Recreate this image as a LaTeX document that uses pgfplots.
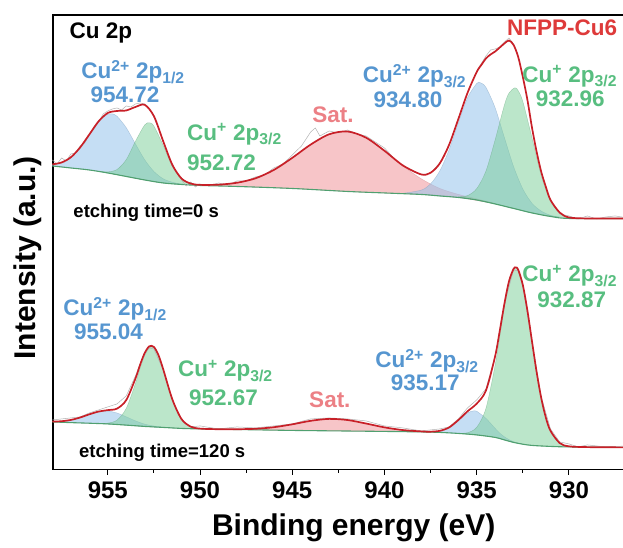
\documentclass[border=0pt]{standalone}
\usepackage{fontspec}
\setmainfont{Liberation Sans}
\usepackage{pgfplots}
\pgfplotsset{compat=1.18}
\usetikzlibrary{calc}
\definecolor{tblue}{RGB}{86,150,208}
\definecolor{tgreen}{RGB}{88,190,128}
\definecolor{tsat}{RGB}{236,128,133}
\definecolor{tred}{RGB}{222,58,58}
\definecolor{envred}{RGB}{200,32,40}
\definecolor{basegreen}{RGB}{80,160,112}
\definecolor{fblue}{RGB}{150,195,235}
\definecolor{fgreen}{RGB}{120,205,150}
\definecolor{fsat}{RGB}{240,150,155}
\newcommand{\lab}{\bfseries\fontsize{22.5}{24}\selectfont}
\newcommand{\etch}{\bfseries\fontsize{18.5}{20}\selectfont}
\begin{document}
\begin{tikzpicture}
\begin{axis}[
  scale only axis, width=575.1pt, height=455pt,
  x dir=reverse, xmin=926.8, xmax=957.97, ymin=-470, ymax=-15,
  clip=false,
  xtick={930,935,940,945,950,955}, minor x tick num=1,
  ytick=\empty, xtick pos=left, tick align=outside,
  major tick length=5pt, minor tick length=3pt,
  every tick/.style={line width=1pt, black},
  axis line style={line width=1.1pt, black},
  ticklabel style={font=\bfseries\fontsize{24}{24}\selectfont},
  /pgf/number format/assume math mode=true,
  /pgf/number format/1000 sep={},
  xticklabel style={yshift=-3pt},
]
% ---------- top spectrum components ----------
\addplot[smooth, fill=fblue, fill opacity=0.55, draw=fblue!80!black, draw opacity=0.5, line width=0.4pt] coordinates {
(958,-164.4) (957.5,-162.5) (957,-157.3) (956.5,-147.8) (956,-134.5) (955.5,-121.6) (955,-114.1) (954.77,-113.8) (954.5,-116.25) (954,-127.7) (953.5,-143.95) (953,-159.8) (952.5,-171.5) (952,-178.8) (951.5,-182.25) (951,-184.1) (950.5,-184.9)
(952,-183) (953,-180) (954,-176.5) (955,-173) (956,-170) (957,-168) (958,-166)} -- cycle;
\addplot[smooth, fill=fgreen, fill opacity=0.5, draw=fgreen!80!black, draw opacity=0.5, line width=0.4pt] coordinates {
(955.5,-171.35) (955,-171.9) (954.5,-169.55) (954,-159.7) (953.5,-141.35) (953,-125) (952.74,-122.8) (952.5,-126.1) (952,-145.2) (951.5,-166.35) (951,-179.1) (950.5,-183.9) (950,-185.3)
(951,-184.5) (952,-183) (953,-180) (954,-176.5) (955,-173)} -- cycle;
\addplot[smooth, fill=fsat, fill opacity=0.55, draw=fsat!85!black, draw opacity=0.5, line width=0.4pt] coordinates {
(950,-185.1) (949,-184.7) (948,-182.8) (947,-178.37) (946,-170.03) (945,-157.9) (944,-144.6) (943,-134.3) (942.1,-131.4) (941,-137.75) (940,-150.8) (939,-165.95) (938,-178.9) (937,-188.5) (936,-194.4) (935,-198.9) (934,-203.7)
(936,-197.5) (938,-194.5) (940,-193) (942,-191.5) (945,-188.5) (948,-186.5)} -- cycle;
\addplot[smooth, fill=fblue, fill opacity=0.55, draw=fblue!80!black, draw opacity=0.5, line width=0.4pt] coordinates {
(939,-193.35) (938,-190.1) (937.5,-183.85) (937,-170.9) (936.5,-149.95) (936,-123.1) (935.5,-97.85) (935,-83.5) (934.8,-82.8) (934.5,-87.4) (934,-107.9) (933.5,-137.55) (933,-166.7) (932.5,-189.05) (932,-203.4) (931.5,-211.15) (931,-215.3) (930.5,-217.2)
(932,-213) (933,-208.5) (934,-204) (935,-200) (936,-197.5) (937,-196) (938,-194.5)} -- cycle;
\addplot[smooth, fill=fgreen, fill opacity=0.5, draw=fgreen!80!black, draw opacity=0.5, line width=0.4pt] coordinates {
(936,-196.85) (935.5,-195.65) (935,-188.7) (934.5,-171.1) (934,-139.8) (933.5,-105.15) (933.25,-93.1) (932.93,-87.8) (932.75,-90.8) (932.5,-101.55) (932,-138.1) (931.5,-175.75) (931,-201.1) (930.5,-212.9) (930,-217.5) (929.5,-218.3)
(931,-216.5) (932,-213) (933,-208.5) (934,-204) (935,-200)} -- cycle;
% ---------- bottom spectrum components ----------
\addplot[smooth, fill=fblue, fill opacity=0.55, draw=fblue!80!black, draw opacity=0.5, line width=0.4pt] coordinates {
(958,-421.65) (957.5,-421.28) (957,-420.04) (956.5,-417.6) (956,-414.4) (955.5,-411.75) (955.04,-411) (954.5,-413.1) (954,-416.9) (953.5,-420.95) (953,-424.2) (952.5,-426.1) (952,-427.25) (951.5,-427.93)
(952.5,-427) (953.5,-425.85) (954.5,-424.6) (955.5,-423.65) (956.5,-423) (957.5,-422.35)} -- cycle;
\addplot[smooth, fill=fgreen, fill opacity=0.5, draw=fgreen!80!black, draw opacity=0.5, line width=0.4pt] coordinates {
(955.5,-423.56) (955,-423.2) (954.5,-420.2) (954,-408.5) (953.5,-383.55) (953.25,-368.5) (953,-355.5) (952.75,-347.85) (952.62,-346.9) (952.5,-347.9) (952.25,-355.75) (952,-369.2) (951.5,-399.5) (951,-419.2) (950.5,-426.75) (950,-428.7)
(951,-428.5) (952,-427.5) (953,-426.5) (954,-425.2) (955,-424)} -- cycle;
\addplot[smooth, fill=fsat, fill opacity=0.55, draw=fsat!85!black, draw opacity=0.5, line width=0.4pt] coordinates {
(948,-429.32) (947,-428.86) (946,-427.3) (945,-424.4) (944,-420.9) (943,-418.97) (942.8,-418.94) (942,-420.1) (941,-423.6) (940,-427.45) (939,-430.15) (938,-431.5) (937,-432.4)
(938.5,-431.9) (940,-431.5) (942,-431.1) (945,-430.5) (947,-429.9)} -- cycle;
\addplot[smooth, fill=fblue, fill opacity=0.55, draw=fblue!80!black, draw opacity=0.5, line width=0.4pt] coordinates {
(937.5,-431.96) (937,-431) (936.5,-427.6) (936,-420.4) (935.5,-412.85) (935.12,-410.8) (935,-411.3) (934.5,-418.45) (934,-428.5) (933.75,-433.25) (933.5,-436.9) (933.25,-439.7) (933,-441.8) (932.75,-443.1) (932.5,-444.2)
(933.5,-440) (934,-437.5) (935,-435) (936,-433.5) (937,-432.5)} -- cycle;
\addplot[smooth, fill=fgreen, fill opacity=0.5, draw=fgreen!80!black, draw opacity=0.5, line width=0.4pt] coordinates {
(936,-433.3) (935.5,-432.8) (935,-427.4) (934.5,-408.45) (934,-365.2) (933.75,-336.35) (933.5,-307) (933.25,-282.85) (933,-269.5) (932.87,-268) (932.75,-270.1) (932.5,-285.1) (932.25,-310.8) (932,-341.8) (931.75,-372.35) (931.5,-398.3) (931.25,-417.75) (931,-430.9) (930.5,-443.15) (930,-446.4) (929.5,-447.05)
(931,-446.5) (932,-445.5) (933,-442.5) (934,-437.5) (935,-435)} -- cycle;
% ---------- baselines ----------
\addplot[smooth, basegreen, line width=1.1pt] coordinates {
(958,-166) (957,-168) (956,-170) (955,-173) (954,-176.5) (953,-180) (952,-183) (951,-184.5) (950,-185.5) (948,-186.5) (945,-188.5) (942,-191.5) (940,-193) (938,-194.5) (937,-196) (936,-197.5) (935,-200) (934,-204) (933,-208.5) (932,-213) (931,-216.5) (930,-218.5) (926.8,-218.5)};
\addplot[smooth, basegreen, line width=1.1pt] coordinates {
(958,-422) (957,-422.7) (956,-423.3) (955,-424) (954,-425.2) (953,-426.5) (952,-427.5) (951,-428.5) (950,-429) (948,-429.6) (945,-430.5) (942,-431.1) (940,-431.5) (938,-432) (937,-432.5) (936,-433.5) (935,-435) (934,-437.5) (933.5,-440) (933,-442.5) (932.5,-444.3) (932,-445.5) (931,-446.5) (930,-447) (926.8,-447.5)};
% ---------- raw data ----------
\addplot[gray!60, line width=0.5pt] coordinates {
(958,-160) (957.75,-164) (957.5,-158) (957.25,-161) (957,-154) (956.75,-153) (956.5,-146) (956.25,-143) (956,-135) (955.75,-129) (955.5,-122) (955.25,-114) (955,-111) (954.75,-109) (954.5,-108) (954.25,-110) (954,-106) (953.75,-107) (953.5,-104) (953.25,-103) (953,-104) (952.75,-109) (952.5,-117) (952.25,-128) (952,-142) (951.5,-166) (951,-180) (950.75,-186) (950.5,-182) (950.25,-187) (950,-184) (949.5,-186) (949,-183) (948.5,-185) (948,-181) (947.5,-181) (947,-177) (946.5,-175) (946,-168) (945.5,-164) (945,-155) (944.5,-146) (944,-132) (943.75,-128) (943.5,-136) (943,-131) (942.5,-133) (942,-130) (941.5,-134) (941,-136) (940.5,-142) (940,-148) (939.5,-158) (939,-166) (938.5,-170) (938,-175) (937.5,-173) (937,-163) (936.5,-145) (936,-119) (935.5,-93) (935,-71) (934.5,-56) (934.25,-50) (934,-49) (933.75,-47) (933.5,-42) (933.25,-38) (933,-44) (932.75,-57) (932.5,-77) (932.25,-101) (932,-128) (931.5,-173) (931,-201) (930.5,-214) (930,-216) (929.5,-219) (929,-216) (928.5,-219) (928,-217) (927.5,-216) (926.8,-218)};
\addplot[gray!60, line width=0.5pt] coordinates {
(958,-420) (957.5,-419) (957,-418) (956.5,-417) (956,-413) (955.5,-410) (955,-407) (954.5,-404) (954,-396) (953.5,-376) (953,-352) (952.75,-348) (952.5,-349) (952,-370) (951.5,-400) (951,-420) (950.5,-427) (950,-426) (949,-429) (948,-427) (947,-428) (946,-426) (945,-424) (944,-419) (943,-418) (942,-419) (941,-421) (940,-426) (939,-428) (938,-431) (937,-429) (936.5,-427) (936,-419) (935.5,-408) (935,-400) (934.5,-389) (934,-356) (933.5,-304) (933,-270) (932.75,-271) (932.5,-287) (932,-342) (931.5,-397) (931,-429) (930.5,-442) (930,-444) (929.5,-447) (929,-445) (928,-447) (926.8,-446)};
% ---------- envelopes ----------
\addplot[smooth, envred, line width=1.7pt] coordinates {
(958,-164.4) (957.5,-162.5) (957,-157.3) (956.5,-147.5) (956,-134.5) (955.5,-121.4) (955,-113) (954.5,-111) (954,-110.5) (953.5,-107) (953,-104.8) (952.5,-116.1) (952,-141) (951.5,-164.85) (951,-178.6) (950.5,-183.6) (950,-184.9) (949,-184.7) (948,-182.8) (947,-178.4) (946,-170) (945,-157.9) (944,-144.6) (943,-134.3) (942,-131.5) (941,-137.7) (940,-150.8) (939,-165.5) (938,-174.5) (937.5,-172.8) (937,-163.4) (936.5,-145) (936,-119.3) (935.5,-93) (935,-72) (934.75,-65) (934.5,-58.5) (934.25,-54.5) (934,-51.5) (933.75,-47.5) (933.5,-43.5) (933.25,-40.5) (933,-45) (932.75,-57) (932.5,-77) (932.25,-100) (932,-128) (931.75,-152) (931.5,-172) (931.25,-187) (931,-200) (930.5,-212.6) (930,-217.5) (929,-218.5) (926.8,-218.5)};
\addplot[smooth, envred, line width=1.7pt] coordinates {
(958,-421.65) (957.5,-421.3) (957,-420) (956.5,-417.6) (956,-414.4) (955.5,-411.66) (955,-410.2) (954.5,-408.7) (954,-400.2) (953.5,-378.65) (953.25,-365) (953,-353.2) (952.75,-346.35) (952.5,-347) (952.25,-355.25) (952,-368.95) (951.5,-399.4) (951,-419.2) (950.5,-426.75) (950,-428.7) (949,-429.3) (948,-429.3) (947,-428.86) (946,-427.3) (945,-424.4) (944,-420.9) (943,-418.97) (942,-420.1) (941,-423.6) (940,-427.45) (939,-430.15) (938,-431.5) (937.5,-431.76) (937,-430.9) (936.5,-427.55) (936,-420.2) (935.5,-411.4) (935,-403.7) (934.5,-390.65) (934,-356.2) (933.75,-330.85) (933.5,-303.9) (933.25,-281.3) (933,-268.8) (932.87,-267.5) (932.75,-269.8) (932.5,-285) (932.25,-310.8) (932,-341.8) (931.75,-372.35) (931.5,-398.3) (931.25,-417.75) (931,-430.9) (930.5,-443.15) (930,-446.4) (929,-447.2) (926.8,-447.5)};
% ---------- labels ----------
\node[anchor=west, font=\lab] at (axis cs:957.26,-33) {Cu 2p};
\node[anchor=east, font=\bfseries\fontsize{22.5}{24}\selectfont, text=tred] at (axis cs:927.2,-28) {NFPP-Cu6};
\node[font=\lab, text=tblue] at (axis cs:953.63,-72) {Cu\textsuperscript{2+} 2p\textsubscript{1/2}};
\node[font=\lab, text=tblue] at (axis cs:954.07,-95) {954.72};
\node[font=\lab, text=tgreen] at (axis cs:948.13,-134) {Cu\textsuperscript{+} 2p\textsubscript{3/2}};
\node[font=\lab, text=tgreen] at (axis cs:948.83,-163) {952.72};
\node[font=\lab, text=tsat] at (axis cs:942.79,-115) {Sat.};
\node[font=\lab, text=tblue] at (axis cs:938.37,-76) {Cu\textsuperscript{2+} 2p\textsubscript{3/2}};
\node[font=\lab, text=tblue] at (axis cs:938.73,-100) {934.80};
\node[anchor=east, font=\lab, text=tgreen] at (axis cs:927.2,-76) {Cu\textsuperscript{+} 2p\textsubscript{3/2}};
\node[anchor=west, font=\lab, text=tgreen] at (axis cs:931.98,-99) {932.96};
\node[anchor=west, font=\etch] at (axis cs:957.05,-213) {etching time=0 s};
\node[font=\lab, text=tblue] at (axis cs:954.6,-309) {Cu\textsuperscript{2+} 2p\textsubscript{1/2}};
\node[font=\lab, text=tblue] at (axis cs:954.96,-331.7) {955.04};
\node[font=\lab, text=tgreen] at (axis cs:948.62,-371) {Cu\textsuperscript{+} 2p\textsubscript{3/2}};
\node[font=\lab, text=tgreen] at (axis cs:948.73,-398) {952.67};
\node[font=\lab, text=tsat] at (axis cs:942.96,-400) {Sat.};
\node[font=\lab, text=tblue] at (axis cs:937.69,-361) {Cu\textsuperscript{2+} 2p\textsubscript{3/2}};
\node[font=\lab, text=tblue] at (axis cs:937.79,-383) {935.17};
\node[anchor=east, font=\lab, text=tgreen] at (axis cs:927.2,-276) {Cu\textsuperscript{+} 2p\textsubscript{3/2}};
\node[anchor=west, font=\lab, text=tgreen] at (axis cs:931.9,-300) {932.87};
\node[anchor=west, font=\etch] at (axis cs:956.74,-453) {etching time=120 s};
\node[font=\bfseries\fontsize{30}{30}\selectfont] at (axis cs:941.67,-528) {Binding energy (eV)};
\node[rotate=90, font=\bfseries\fontsize{30}{30}\selectfont] at (axis cs:959.32,-258) {Intensity (a.u.)};
\coordinate (BL) at (axis cs:957.97,-470);
\coordinate (TR) at (axis cs:927.07,-15);
\end{axis}
\pgfresetboundingbox
\path ($(BL)+(-53pt,-78pt)$) rectangle ($(TR)+(0pt,15pt)$);
\end{tikzpicture}
\end{document}
